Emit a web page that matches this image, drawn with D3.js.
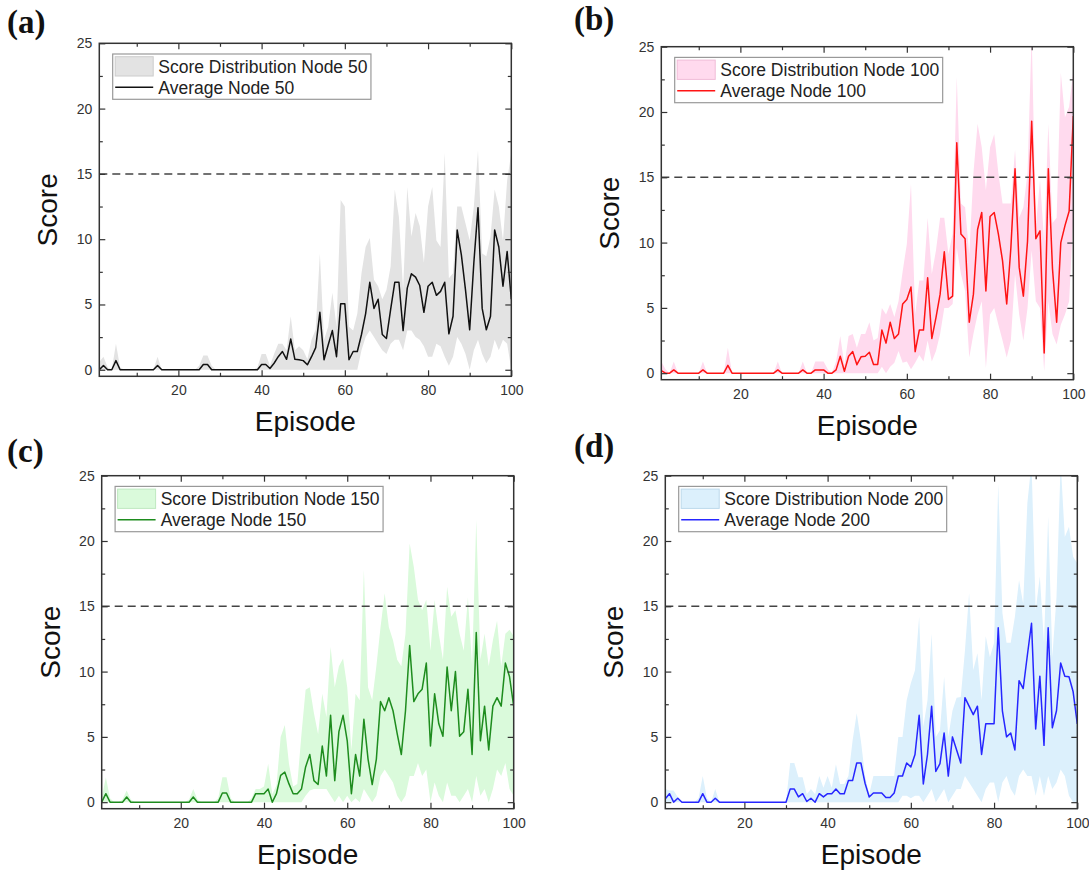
<!DOCTYPE html>
<html>
<head>
<meta charset="utf-8">
<script src="https://cdn.jsdelivr.net/npm/d3@7"></script>
<style>
body { margin: 0; background: #fff; }
#chart { width: 1089px; height: 875px; }
text { font-family: Arial, "Liberation Sans", sans-serif; }
</style>
</head>
<body>
<div id="chart"></div>
<script>

// episodes on the x axis
var episodes = d3.range(1, 101);

var xTicks = [20, 40, 60, 80, 100];
var xMinorTicks = [10, 30, 50, 70, 90];
var yTicks = [0, 5, 10, 15, 20, 25];
var yMinorTicks = [2.5, 7.5, 12.5, 17.5, 22.5];
var threshold = 15;

var panelLabels = ["(a)", "(b)", "(c)", "(d)"];
var nodeSizes = [50, 100, 150, 200];

// (a) node 50
var meanA = [
0,0.33,0,0,0.7,0,0,0,0,0,
0,0,0,0,0.33,0,0,0,0,0,
0,0,0,0,0,0.4,0.4,0,0,0,
0,0,0,0,0,0,0,0,0,0.4,
0.4,0.1,0.5,1.0,1.4,0.8,2.35,0.8,0.77,0.7,
0.38,1.0,1.7,4.4,0.77,1.9,3.0,1.0,5.05,5.05,
0.77,1.4,1.4,2.7,4.3,6.7,4.7,5.4,2.7,2.4,
4.6,6.7,6.7,3.0,6.25,7.35,7.1,6.45,4.4,6.4,
6.7,5.7,6.0,6.7,2.75,4.1,10.7,8.8,6.1,3.06,
8.2,12.4,4.7,3.06,4.1,10.7,9.4,6.4,9.05,5.4
];
var highA = [
0.6,1.0,0.2,0,2.0,0.2,0,0,0,0,
0,0,0,0,1.0,0,0,0,0,0,
0,0,0,0,0.3,1.1,1.1,0.3,0,0,
0,0,0,0,0,0,0,0,0.2,1.2,
1.2,0.3,1.2,2.0,2.0,1.5,4.1,1.5,1.8,1.5,
0.8,2.3,3.1,8.9,2.3,3.3,5.9,3.3,13.0,12.5,
3.3,3.0,4.3,7.4,9.4,10.1,6.9,6.4,5.4,6.1,
7.9,13.8,11.7,6.1,14.0,10.2,12.0,11.0,8.2,12.5,
14.0,9.9,9.4,16.6,7.0,7.4,12.5,12.5,11.2,9.9,
12.5,16.8,8.9,8.7,10.2,13.8,12.5,9.9,14.5,16.6
];
var lowA = [
0,0,0,0,0,0,0,0,0,0,
0,0,0,0,0,0,0,0,0,0,
0,0,0,0,0,0,0,0,0,0,
0,0,0,0,0,0,0,0,0,0,
0,0,0,0,0,0,0,0,0,0,
0,0,0,0,0,0,0,0,0,0,
0,0,0,1.5,2.5,3.0,2.5,2.0,1.5,1.2,
2.0,2.3,2.3,1.5,3.0,3.0,2.5,2.3,1.8,1.0,
1.0,2.0,1.8,1.0,0.3,1.0,2.5,2.0,1.2,0,
1.5,2.3,1.2,0.5,1.0,2.3,1.5,2.3,2.0,0
];

// (b) node 100
var meanB = [
0.2,0,0,0.25,0,0,0,0,0,0,
0.25,0,0,0,0,0,0.6,0,0,0,
0,0,0,0,0,0,0,0,0.25,0,
0,0,0,0,0.25,0,0,0.25,0.25,0.25,
0,0,0.25,1.3,0.15,1.3,1.65,0.65,1.25,1.3,
1.6,0.67,0.67,3.3,2.3,3.9,2.65,3.0,5.3,5.65,
6.6,1.65,3.3,3.3,7.3,2.65,4.25,6.05,9.3,5.65,
5.9,17.65,10.65,10.3,3.9,6.05,11.0,12.3,6.3,12.0,
12.3,10.65,8.6,5.3,9.6,15.65,8.1,5.9,10.1,19.3,
10.3,10.9,1.55,15.65,8.0,3.9,10.0,11.3,12.4,19.7
];
var highB = [
0.9,0.3,0,0.9,0,0,0,0,0,0,
0.9,0,0,0,0,0,1.95,0,0,0,
0,0,0,0,0,0,0,0,0.9,0,
0,0,0,0,0.9,0,0,0.9,0.9,0.9,
0.3,0,0.9,2.85,0.6,2.85,3.0,1.95,3.0,3.0,
3.9,2.5,2.7,5.0,4.5,5.3,4.3,5.5,7.8,9.9,
14.5,4.5,7.1,7.1,11.9,7.6,9.4,11.9,11.9,9.1,
10.7,22.7,13.0,12.7,9.1,15.3,19.1,17.3,14.0,17.3,
18.3,15.3,13.0,13.0,13.0,17.1,11.9,12.7,15.3,26,
11.2,14.8,10.1,19.1,11.5,11.9,23.0,19.6,20.4,23.2
];
var lowB = [
0,0,0,0,0,0,0,0,0,0,
0,0,0,0,0,0,0,0,0,0,
0,0,0,0,0,0,0,0,0,0,
0,0,0,0,0,0,0,0,0,0,
0,0,0,0,0,0,0,0,0,0,
0,0,0,0.5,0,0.5,0.8,1.7,0.8,0.9,
0.3,0.8,1.4,0.9,2.5,0.9,1.7,3.0,5.0,5.0,
5.3,9.6,7.6,6.3,1.2,3.0,4.5,5.5,0.4,4.5,
5.0,3.7,2.5,1.2,2.5,7.6,4.5,2.5,5.0,9.4,
5.5,5.0,0.15,5.5,3.0,2.2,3.7,4.5,5.5,12.0
];

// (c) node 150
var meanC = [
0,0.65,0,0,0,0,0.4,0,0,0,
0,0,0,0,0,0,0,0,0,0,
0,0,0.4,0,0,0,0,0,0,0.7,
0.7,0,0,0,0,0,0,0.65,0.65,0.65,
1.0,0,0.65,2.05,2.3,1.4,0.65,0.65,1.0,2.7,
3.65,1.65,1.35,4.3,2.0,6.65,1.65,5.4,6.65,4.7,
0.65,3.65,2.0,6.35,3.3,1.35,3.3,7.7,7.0,8.0,
7.0,5.25,3.65,7.0,12.0,7.7,8.3,8.65,10.65,4.3,
8.3,6.0,5.05,10.35,7.0,10.0,5.05,5.4,8.65,3.65,
13.0,4.7,7.35,4.0,7.35,8.0,7.35,10.65,9.6,7.35
];
var highC = [
0.3,1.9,0.3,0,0,0.2,0.9,0.2,0,0,
0,0,0,0,0,0,0,0,0,0,
0,0.2,1.0,0.2,0,0,0,0,0.3,1.9,
1.9,0.3,0,0,0,0,0.3,1.0,1.0,1.2,
2.95,0.6,1.3,5.0,5.9,2.95,1.2,1.4,5.2,8.6,
8.8,6.8,5.2,8.3,6.5,11.9,8.8,10.4,11.0,8.8,
4.0,8.3,7.8,17.8,8.8,7.8,10.4,13.4,16.0,13.4,
12.4,10.9,10.4,12.9,19.8,18.0,15.5,14.7,15.5,11.6,
15.5,12.9,10.9,16.5,14.2,14.7,12.9,11.6,15.7,10.4,
21.6,10.9,12.9,10.4,12.4,13.9,10.4,12.9,13.2,12.7
];
var lowC = [
0,0,0,0,0,0,0,0,0,0,
0,0,0,0,0,0,0,0,0,0,
0,0,0,0,0,0,0,0,0,0,
0,0,0,0,0,0,0,0,0,0,
0,0,0,0,0,0,0,0,0,0.5,
0.9,1.0,1.0,1.0,1.0,0.5,0,0.5,0,0.5,
0,0.3,0,1.0,0.5,0,0.5,2.0,2.5,2.0,
1.5,0.5,0,0.5,2.0,2.0,3.0,2.0,2.5,0,
1.5,0.5,0,1.5,0.5,0.5,0,0.5,1.0,0,
2.0,0.5,1.0,0,1.0,2.5,2.0,3.0,1.0,0.5
];

// (d) node 200
var meanD = [
0.25,0.65,0,0.3,0,0,0,0,0,0.65,
0,0,0.3,0,0,0,0,0,0,0,
0,0,0,0,0,0,0,0,0,0,
1.0,1.0,0.4,0.65,0.05,0.3,0,0.65,0.4,0.65,
0.65,1.0,0.65,0.65,1.65,1.65,3.0,3.0,1.45,0.4,
0.7,0.7,0.7,0.35,0.35,0.7,2.0,2.0,3.0,2.7,
3.65,6.65,1.4,3.65,7.35,2.35,2.95,5.3,2.0,5.0,
4.0,3.0,8.0,7.35,6.7,7.35,3.65,6.0,6.0,6.0,
13.35,7.0,5.0,5.3,4.0,9.3,8.7,11.25,13.7,5.6,
9.65,4.35,13.35,5.7,7.0,10.65,9.65,9.6,8.45,6.0
];
var highD = [
1.0,0.9,0.9,0.4,0,0,0,0,0.3,2.0,
0.3,0,1.0,0,0,0,0,0,0,0,
0,0,0,0,0,0,0,0,0,0,
3.0,3.0,1.9,1.9,0.6,1.0,0.6,2.0,1.1,2.0,
1.1,2.9,1.4,1.4,2.0,4.7,6.8,4.7,2.0,0.6,
2.0,2.0,2.0,2.0,2.0,2.0,5.0,5.0,7.8,9.1,
10.1,14.2,5.75,7.8,12.9,5.0,5.5,9.6,5.0,7.0,
8.0,8.05,11.6,16.0,10.1,11.4,7.8,12.7,11.1,12.2,
24.4,14.5,12.2,12.2,14.2,17.0,15.2,22.9,26,14.7,
17.3,12.2,21.9,11.1,15.7,26,20.3,21.1,18.8,18.3
];
var lowD = [
0,0,0,0,0,0,0,0,0,0,
0,0,0,0,0,0,0,0,0,0,
0,0,0,0,0,0,0,0,0,0,
0,0,0,0,0,0,0,0,0,0,
0,0,0,0,0,0,0,0,0,0,
0,0,0,0,0,0,0,0.5,0.5,0.3,
0.5,0.5,0,0.5,1.0,0,0.5,1.0,0,0.5,
1.0,1.0,2.0,1.5,1.0,0.5,0,1.0,1.5,1.5,
0,1.5,2.0,1.0,0.5,2.0,2.5,2.0,2.0,0.5,
2.0,0.5,2.0,1.0,1.5,2.5,2.0,0.5,0,0
];

var means = [meanA, meanB, meanC, meanD];
var highs = [highA, highB, highC, highD];
var lows = [lowA, lowB, lowC, lowD];

var lineColors = ["#111111", "#ff1414", "#1e8c1e", "#2626ff"];
var fillColors = ["#e3e3e3", "#ffdaee", "#dafadb", "#dcf0fc"];
var swatchStrokes = ["#cccccc", "#f0bcd8", "#bfe8c0", "#bcd9ec"];

// where each panel's plot box sits on the page
var panelPos = [
    {x: 99.3, y: 43.3, lx: 7, ly: 33},
    {x: 661.3, y: 46.7, lx: 574, ly: 30},
    {x: 101.7, y: 475.7, lx: 7, ly: 462},
    {x: 665.3, y: 475.7, lx: 574, ly: 457}
];
var plotW = 412;
var plotH = 333;

var svg = d3.select("#chart")
    .append("svg")
    .attr("width", 1089)
    .attr("height", 875);

var x = d3.scaleLinear().domain([1, 100]).range([0, plotW]);
var y = d3.scaleLinear().domain([-0.5, 25]).range([plotH, 0]);

for (var i = 0; i < 4; i++) {
    drawPanel(i);
}

function drawPanel(i) {
    var pos = panelPos[i];

    svg.append("text")
        .attr("x", pos.lx)
        .attr("y", pos.ly)
        .style("font-family", "'Liberation Serif', 'Times New Roman', serif")
        .style("font-weight", "bold")
        .style("font-size", "33px")
        .attr("fill", "#111")
        .text(panelLabels[i]);

    var g = svg.append("g")
        .attr("transform", "translate(" + pos.x + "," + pos.y + ")");

    g.append("clipPath")
        .attr("id", "clip" + i)
        .append("rect")
        .attr("width", plotW)
        .attr("height", plotH);

    var rows = episodes.map(function(ep, j) {
        return {ep: ep, mean: means[i][j], low: lows[i][j], high: highs[i][j]};
    });

    var area = d3.area()
        .x(function(d) { return x(d.ep); })
        .y0(function(d) { return y(d.low); })
        .y1(function(d) { return y(d.high); });

    var line = d3.line()
        .x(function(d) { return x(d.ep); })
        .y(function(d) { return y(d.mean); });

    var inner = g.append("g").attr("clip-path", "url(#clip" + i + ")");

    inner.append("path")
        .datum(rows)
        .attr("d", area)
        .attr("fill", fillColors[i]);

    inner.append("line")
        .attr("x1", 0)
        .attr("x2", plotW)
        .attr("y1", y(threshold))
        .attr("y2", y(threshold))
        .attr("stroke", "#444")
        .attr("stroke-width", 1.5)
        .attr("stroke-dasharray", "8,5");

    inner.append("path")
        .datum(rows)
        .attr("d", line)
        .attr("fill", "none")
        .attr("stroke", lineColors[i])
        .attr("stroke-width", 1.5)
        .attr("stroke-linejoin", "round");

    // axes, ticks pointing inward on all four sides
    addAxis(g, d3.axisBottom(x).tickValues(xTicks).tickSize(-6).tickPadding(9), "translate(0," + plotH + ")", true);
    addAxis(g, d3.axisBottom(x).tickValues(xMinorTicks).tickSize(-3.5).tickFormat(""), "translate(0," + plotH + ")", false);
    addAxis(g, d3.axisTop(x).tickValues(xTicks).tickSize(-6).tickFormat(""), "translate(0,0)", false);
    addAxis(g, d3.axisTop(x).tickValues(xMinorTicks).tickSize(-3.5).tickFormat(""), "translate(0,0)", false);
    addAxis(g, d3.axisLeft(y).tickValues(yTicks).tickSize(-6).tickPadding(7), "translate(0,0)", true);
    addAxis(g, d3.axisLeft(y).tickValues(yMinorTicks).tickSize(-3.5).tickFormat(""), "translate(0,0)", false);
    addAxis(g, d3.axisRight(y).tickValues(yTicks).tickSize(-6).tickFormat(""), "translate(" + plotW + ",0)", false);
    addAxis(g, d3.axisRight(y).tickValues(yMinorTicks).tickSize(-3.5).tickFormat(""), "translate(" + plotW + ",0)", false);

    g.append("rect")
        .attr("width", plotW)
        .attr("height", plotH)
        .attr("fill", "none")
        .attr("stroke", "#333")
        .attr("stroke-width", 1.5);

    g.append("text")
        .attr("transform", "translate(-42," + (plotH / 2) + ") rotate(-90)")
        .attr("text-anchor", "middle")
        .style("font-size", "28px")
        .attr("fill", "#111")
        .text("Score");

    g.append("text")
        .attr("x", plotW / 2)
        .attr("y", plotH + 55)
        .attr("text-anchor", "middle")
        .style("font-size", "28px")
        .attr("fill", "#111")
        .text("Episode");

    // legend
    var leg = g.append("g").attr("transform", "translate(13.4,10.7)");

    var box = leg.append("rect")
        .attr("height", 45.3)
        .attr("fill", "#fff")
        .attr("stroke", "#999")
        .attr("stroke-width", 1.2);

    leg.append("rect")
        .attr("x", 2.5)
        .attr("y", 2.7)
        .attr("width", 38)
        .attr("height", 19.3)
        .attr("fill", fillColors[i])
        .attr("stroke", swatchStrokes[i]);

    leg.append("line")
        .attr("x1", 2.5)
        .attr("x2", 40.5)
        .attr("y1", 33.3)
        .attr("y2", 33.3)
        .attr("stroke", lineColors[i])
        .attr("stroke-width", 1.5);

    var t1 = leg.append("text")
        .attr("x", 45.6)
        .attr("y", 18.5)
        .style("font-size", "17.5px")
        .attr("fill", "#222")
        .text("Score Distribution Node " + nodeSizes[i]);

    leg.append("text")
        .attr("x", 45.6)
        .attr("y", 39.5)
        .style("font-size", "17.5px")
        .attr("fill", "#222")
        .text("Average Node " + nodeSizes[i]);

    box.attr("width", 45.6 + t1.node().getComputedTextLength() + 3.5);
}

function addAxis(g, axis, transform, labels) {
    var a = g.append("g")
        .attr("transform", transform)
        .call(axis);
    a.select(".domain").remove();
    a.selectAll(".tick line")
        .attr("stroke", "#333")
        .attr("stroke-width", 1.2);
    if (labels) {
        a.selectAll(".tick text")
            .style("font-size", "14px")
            .attr("fill", "#333");
    }
}

</script>
</body>
</html>
